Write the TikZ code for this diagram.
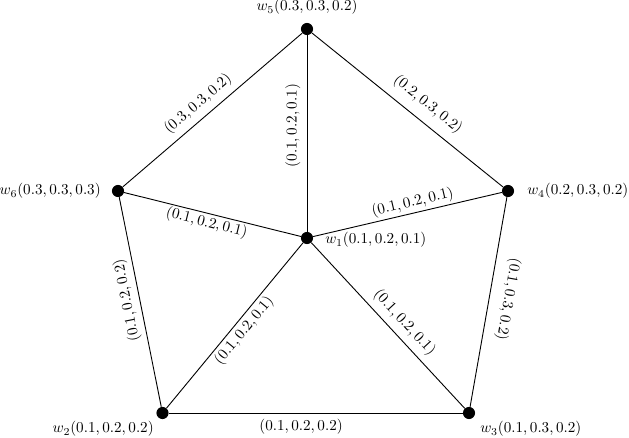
\documentclass[tikz,border=0pt]{standalone}
\begin{document}
\begin{tikzpicture}[x=0.66pt,y=-0.66pt,
  vert/.style={circle,fill=black,inner sep=0pt,minimum size=8pt},
  vlab/.style={inner sep=0pt},
  elab/.style={inner sep=0pt,sloped,font=\normalsize},
  edge/.style={draw=black,line width=0.6pt}]
\useasboundingbox (0,0) rectangle (629,438);
\node[vert] (w1) at (307,238) {};
\node[vert] (w2) at (162.5,413) {};
\node[vert] (w3) at (469,413) {};
\node[vert] (w4) at (508,191) {};
\node[vert] (w5) at (307,29) {};
\node[vert] (w6) at (118,191) {};
\node[vlab,anchor=south] (l5) at (307,15) {$w_5(0.3,0.3,0.2)$};
\node[vlab,anchor=east] (l6) at (101,191) {$w_6(0.3,0.3,0.3)$};
\node[vlab,anchor=west] (l4) at (527,191) {$w_4(0.2,0.3,0.2)$};
\node[vlab,anchor=west] (l1) at (325,240) {$w_1(0.1,0.2,0.1)$};
\node[vlab,anchor=east] (l2) at (154,429) {$w_2(0.1,0.2,0.2)$};
\node[vlab,anchor=west] (l3) at (480,429) {$w_3(0.1,0.3,0.2)$};
\path[edge] (w6) -- node[elab,pos=0.47,above=4pt] (e65) {$(0.3,0.3,0.2)$} (w5);
\path[edge] (w1) -- node[elab,pos=0.54,above=4pt] (e15) {$(0.1,0.2,0.1)$} (w5);
\path[edge] (w5) -- node[elab,pos=0.55,above=6pt] (e54) {$(0.2,0.3,0.2)$} (w4);
\path[edge] (w6) -- node[elab,pos=0.48,below=1pt] (e61) {$(0.1,0.2,0.1)$} (w1);
\path[edge] (w1) -- node[elab,pos=0.54,above=1.5pt] (e14) {$(0.1,0.2,0.1)$} (w4);
\path[edge] (w2) -- node[elab,allow upside down,pos=0.52,above=3pt] (e26) {$(0.1,0.2,0.2)$} (w6);
\path[edge] (w4) -- node[elab,allow upside down,pos=0.47,above=7pt] (e43) {$(0.1,0.3,0.2)$} (w3);
\path[edge] (w2) -- node[elab,pos=0.51,below=1.7pt] (e21) {$(0.1,0.2,0.1)$} (w1);
\path[edge] (w1) -- node[elab,pos=0.54,above=4pt] (e13) {$(0.1,0.2,0.1)$} (w3);
\path[edge] (w2) -- node[elab,pos=0.45,below=4pt] (e23) {$(0.1,0.2,0.2)$} (w3);
\end{tikzpicture}
\end{document}
